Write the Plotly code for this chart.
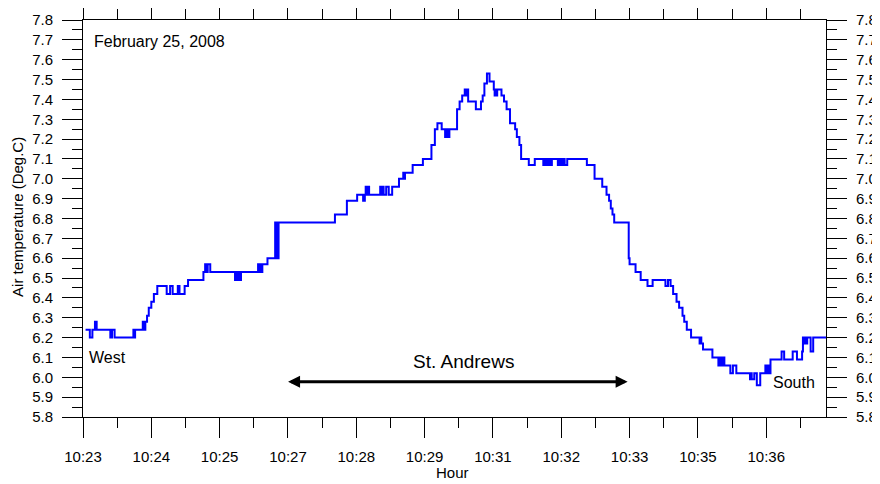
import plotly.graph_objects as go
import pandas as pd

# ---- data (seconds after 10:23:00, deg C; step series) ----
day = "2008-02-25"
axis_start = "10:23:00"
axis_end = "10:37:30"

seconds_after_1023 = [
    3, 8, 11, 14, 16, 32, 34, 37, 59, 60, 61, 70, 71, 73, 75, 77, 80, 83, 87,
    98, 102, 105, 111, 113, 119, 123, 141, 143, 145, 146, 149, 178, 179, 180,
    182, 183, 185, 205, 206, 207, 208, 210, 216, 225, 226, 227, 228, 229, 295,
    309, 321, 328, 330, 331, 332, 334, 335, 348, 349, 350, 352, 355, 358, 362,
    370, 375, 376, 377, 386, 398, 408, 412, 415, 420, 424, 425, 427, 429, 438,
    441, 444, 447, 449, 450, 451, 460, 466, 468, 470, 473, 476, 481, 482, 483,
    484, 485, 490, 493, 496, 500, 506, 508, 511, 513, 522, 529, 539, 540, 541,
    543, 545, 546, 548, 549, 556, 557, 558, 560, 561, 562, 564, 567, 590, 599,
    608, 613, 616, 618, 620, 622, 639, 640, 647, 653, 661, 667, 682, 685, 688,
    691, 695, 698, 702, 704, 707, 712, 722, 723, 724, 726, 737, 744, 745, 747,
    749, 751, 758, 761, 765, 781, 782, 783, 786, 789, 793, 799, 800, 802, 803,
    805, 818, 821, 831, 836, 842, 843, 844, 846, 847, 848, 852, 855, 870,
]
air_temp_c = [
    6.24, 6.20, 6.24, 6.28, 6.24, 6.20, 6.24, 6.20, 6.24, 6.20, 6.24, 6.28, 6.24, 6.28, 6.31, 6.35, 6.38, 6.42, 6.46,
    6.42, 6.46, 6.42, 6.46, 6.42, 6.46, 6.49, 6.53, 6.57, 6.53, 6.57, 6.53, 6.49, 6.53, 6.49,
    6.53, 6.49, 6.53, 6.57, 6.53, 6.57, 6.53, 6.57, 6.60, 6.78, 6.60, 6.78, 6.60, 6.78, 6.82,
    6.89, 6.92, 6.89, 6.92, 6.96, 6.92, 6.96, 6.92, 6.96, 6.92, 6.96, 6.92, 6.96, 6.92, 6.96,
    7.00, 7.03, 7.00, 7.03, 7.07, 7.10, 7.17, 7.25, 7.28, 7.25, 7.21, 7.25, 7.21, 7.25, 7.35,
    7.39, 7.42, 7.45, 7.42, 7.45, 7.39, 7.35, 7.39, 7.42, 7.48, 7.53, 7.49, 7.45, 7.42, 7.45,
    7.42, 7.45, 7.42, 7.39, 7.35, 7.28, 7.25, 7.21, 7.17, 7.10, 7.07, 7.10, 7.07, 7.10, 7.07,
    7.10, 7.07, 7.10, 7.07, 7.10, 7.07, 7.10, 7.07, 7.10, 7.07, 7.10, 7.07, 7.10, 7.07, 7.00,
    6.96, 6.92, 6.89, 6.85, 6.82, 6.78, 6.60, 6.57, 6.53, 6.49, 6.46, 6.49, 6.46, 6.49, 6.46,
    6.42, 6.38, 6.35, 6.31, 6.28, 6.24, 6.20, 6.17, 6.20, 6.17, 6.14, 6.10, 6.06, 6.10, 6.06,
    6.10, 6.06, 6.02, 6.06, 6.02, 5.99, 6.02, 5.99, 6.02, 5.96, 6.02, 6.06, 6.02, 6.06, 6.02,
    6.09, 6.13, 6.09, 6.13, 6.09, 6.13, 6.20, 6.17, 6.20, 6.17, 6.20, 6.13, 6.20, 6.20,
]

y_ticks = [5.8, 5.9, 6.0, 6.1, 6.2, 6.3, 6.4, 6.5, 6.6, 6.7, 6.8, 6.9, 7.0,
           7.1, 7.2, 7.3, 7.4, 7.5, 7.6, 7.7, 7.8]
x_tick_step_s = 80

date_label = "February 25, 2008"
west_label = "West"
south_label = "South"
segment_label = "St. Andrews"
y_title = "Air temperature (Deg.C)"
x_title = "Hour"

# ---- build ----
base = pd.Timestamp(f"{day} {axis_start}")
times = [base + pd.Timedelta(seconds=s) for s in seconds_after_1023]
x_range = [base, pd.Timestamp(f"{day} {axis_end}")]

FONT = "Liberation Sans, Arial, sans-serif"
fig = go.Figure()
fig.add_trace(go.Scatter(x=times, y=air_temp_c, mode="lines", line_shape="hv",
                         line=dict(color="#0000FF", width=2), showlegend=False,
                         hoverinfo="x+y"))
fig.add_trace(go.Scatter(x=times, y=air_temp_c, mode="lines", yaxis="y2",
                         opacity=0, showlegend=False, hoverinfo="skip"))

tickfont = dict(family=FONT, size=15, color="black")
yaxis_common = dict(range=[y_ticks[0], y_ticks[-1]], tickvals=y_ticks,
                    ticktext=[f"{v:.1f}" for v in y_ticks],
                    ticks="outside", ticklen=20, tickwidth=1, tickcolor="black",
                    showline=True, linecolor="black", linewidth=1,
                    showgrid=False, zeroline=False, tickfont=tickfont,
                    ticklabelstandoff=6, automargin=False,
                    minor=dict(dtick=0.05, tick0=y_ticks[0], ticks="outside", ticklen=10,
                               tickwidth=1, tickcolor="black", showgrid=False))

# page body has an 8px default margin, so the figure is sized/margined to compensate
fig.update_layout(
    width=872, height=476,
    margin=dict(l=75, r=54, t=12, b=67),
    paper_bgcolor="white", plot_bgcolor="white",
    font=dict(family=FONT, size=15, color="black"),
    xaxis=dict(type="date", range=x_range, tick0=base, dtick=x_tick_step_s * 1000,
               tickformat="%H:%M", ticks="outside", ticklen=20, tickwidth=1,
               tickcolor="black", showline=True, linecolor="black", linewidth=1,
               mirror="ticks", showgrid=False, zeroline=False, tickfont=tickfont,
               ticklabelstandoff=6, automargin=False,
               minor=dict(dtick=x_tick_step_s * 500, tick0=base, ticks="outside",
                          ticklen=10, tickwidth=1, tickcolor="black", showgrid=False)),
    yaxis=dict(side="left", **yaxis_common),
    yaxis2=dict(side="right", overlaying="y", **yaxis_common),
    hovermode="closest",
)

def label(text, x, y, xanchor="left", size=16, angle=0):
    fig.add_annotation(text=text, x=x, y=y, xref="x domain", yref="y domain",
                       xanchor=xanchor, yanchor="middle", showarrow=False,
                       textangle=angle, font=dict(family=FONT, size=size, color="black"))

label(date_label, 0.0125, 0.947)
label(west_label, 0.006, 0.151)
label(south_label, 0.988, 0.086, xanchor="right")
label(segment_label, 0.512, 0.139, xanchor="center", size=19)
label(y_title, -0.0875, 0.504, xanchor="center", size=15, angle=-90)
label(x_title, 0.497, -0.141, xanchor="center", size=15)

fig.add_annotation(x=0.733, y=0.089, ax=0.274, ay=0.089,
                   xref="x domain", yref="y domain", axref="x domain", ayref="y domain",
                   text="", showarrow=True, arrowside="end+start", arrowhead=2,
                   arrowsize=0.8, arrowwidth=3, arrowcolor="black", standoff=0)

fig.write_html("out.html")
